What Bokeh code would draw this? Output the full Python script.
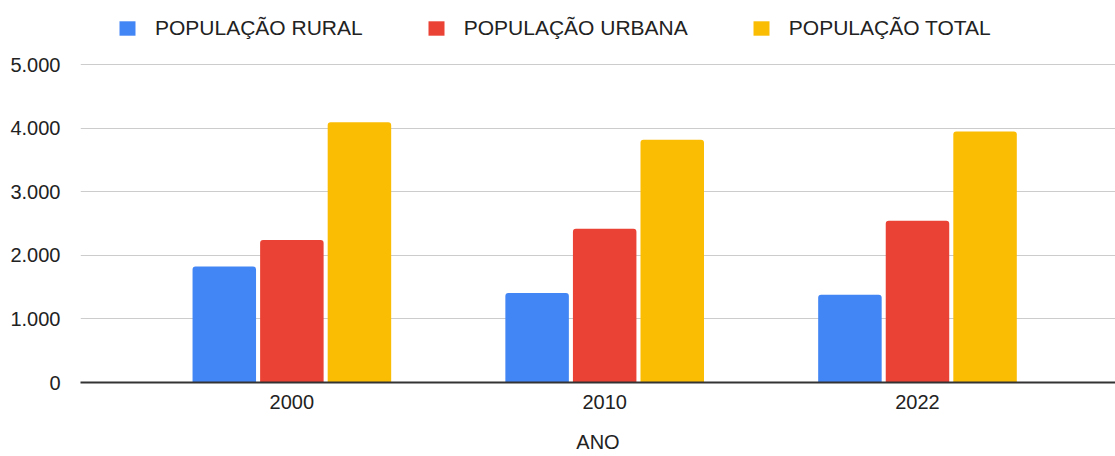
from bokeh.plotting import figure
from bokeh.models import ColumnDataSource, FixedTicker, Legend, LegendItem, Range1d
from bokeh.transform import dodge
from bokeh.embed import file_html
from bokeh.resources import INLINE

years = ["2000", "2010", "2022"]
rural = [1825, 1408, 1382]
urbana = [2243, 2420, 2545]
total = [4094, 3818, 3948]
series_names = ["POPULAÇÃO RURAL", "POPULAÇÃO URBANA", "POPULAÇÃO TOTAL"]
colors = ["#4285F4", "#EA4335", "#FBBC04"]
y_ticks = [0, 1000, 2000, 3000, 4000, 5000]

pos = [i + 1 for i in range(len(years))]
source = ColumnDataSource(dict(x=pos, rural=rural, urbana=urbana, total=total))

FONT = "Liberation Sans"
FS = "20px"

p = figure(width=1115, height=456, output_backend="svg", toolbar_location=None,
           x_range=Range1d(0.3243, 3.633), y_range=Range1d(0, 6011),
           min_border_left=80, min_border_right=0, min_border_top=0, min_border_bottom=74)
p.outline_line_color = None
p.background_fill_color = "white"
p.border_fill_color = "white"

renderers = []
offsets = [-0.216, 0.0, 0.216]
for col, off, c in zip(["rural", "urbana", "total"], offsets, colors):
    r = p.vbar(x=dodge("x", off), top=col, width=0.203, source=source,
               fill_color=c, line_color=None, border_radius=(3, 3, 0, 0))
    renderers.append(r)

# axes
p.xaxis.ticker = FixedTicker(ticks=pos)
p.xaxis.major_label_overrides = {x: y for x, y in zip(pos, years)}
p.xaxis.axis_label = "ANO"
p.xaxis.axis_line_color = "#333333"
p.xaxis.axis_line_width = 2
p.xaxis.major_tick_line_color = None
p.xaxis.minor_tick_line_color = None
p.xaxis.major_label_standoff = 6
p.xaxis.axis_label_standoff = 19
p.xaxis.axis_label_text_font_style = "normal"

p.yaxis.ticker = FixedTicker(ticks=y_ticks)
p.yaxis.major_label_overrides = {v: f"{v:,}".replace(",", ".") for v in y_ticks}
p.yaxis.axis_line_color = None
p.yaxis.major_tick_line_color = None
p.yaxis.minor_tick_line_color = None
p.yaxis.major_label_standoff = 14

for ax in (p.xaxis[0], p.yaxis[0]):
    ax.major_label_text_font = FONT
    ax.major_label_text_font_size = FS
    ax.major_label_text_color = "#222222"
    ax.axis_label_text_font = FONT
    ax.axis_label_text_font_size = FS
    ax.axis_label_text_color = "#222222"

p.xgrid.grid_line_color = None
p.ygrid.grid_line_color = "#cccccc"
p.ygrid.grid_line_width = 1

legend = Legend(items=[LegendItem(label=n, renderers=[r]) for n, r in zip(series_names, renderers)],
                orientation="horizontal", location=(37, 342),
                glyph_width=20, glyph_height=18, label_standoff=18, spacing=63,
                label_text_font=FONT, label_text_font_size="21px", label_text_color="#222222",
                background_fill_alpha=0, border_line_color=None, padding=0, margin=0)
p.add_layout(legend)

open("out.html", "w").write(file_html(p, INLINE))
